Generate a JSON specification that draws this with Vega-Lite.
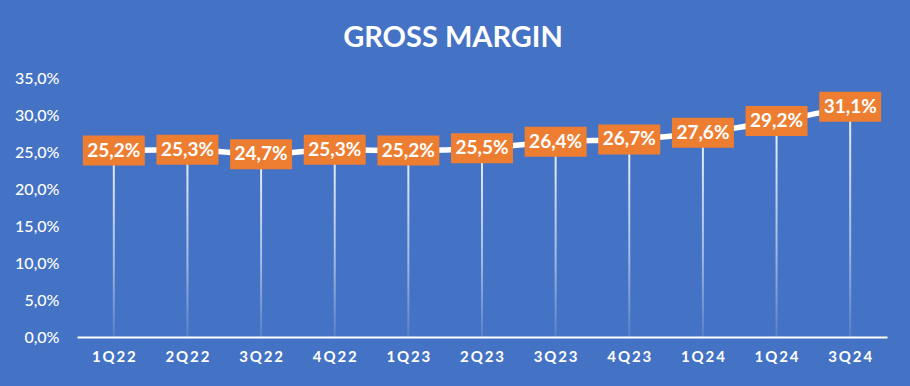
{
  "$schema": "https://vega.github.io/schema/vega-lite/v6.json",
  "width": 810,
  "height": 259,
  "autosize": {"type": "none"},
  "padding": {"left": 77, "top": 78, "right": 23, "bottom": 49},
  "background": "#4472C4",
  "title": {"text": "GROSS MARGIN", "color": "white", "font": "Lato", "fontSize": 29, "fontWeight": "bold", "anchor": "middle", "dx": -29, "offset": 17},
  "data": {"values": [
    {"q": "1Q22", "v": 0.252},
    {"q": "2Q22", "v": 0.253},
    {"q": "3Q22", "v": 0.247},
    {"q": "4Q22", "v": 0.253},
    {"q": "1Q23", "v": 0.252},
    {"q": "2Q23", "v": 0.255},
    {"q": "3Q23", "v": 0.264},
    {"q": "4Q23", "v": 0.267},
    {"q": "1Q24", "v": 0.276},
    {"q": "1Q24#2", "v": 0.292},
    {"q": "3Q24", "v": 0.311}
  ]},
  "encoding": {
    "x": {"field": "q", "type": "nominal", "sort": null,
      "axis": {"title": null, "labelAngle": 0, "domainColor": "white", "domainWidth": 2, "ticks": false, "grid": false,
        "labelColor": "white", "labelFont": "Lato", "labelFontSize": 15, "labelFontWeight": "bold", "labelPadding": 12,
        "labelExpr": "join(split(substring(datum.value, 0, 4), ''), '\u2009')"}},
    "y": {"field": "v", "type": "quantitative", "scale": {"domain": [0, 0.35], "nice": false},
      "axis": {"title": null, "domain": false, "ticks": false, "grid": false, "format": ".1%",
        "values": [0, 0.05, 0.1, 0.15, 0.2, 0.25, 0.3, 0.35],
        "labelColor": "white", "labelFont": "Lato", "labelFontSize": 16, "labelFontWeight": 500, "labelPadding": 18}}
  },
  "layer": [
    {"mark": {"type": "bar", "width": 2, "stroke": null,
      "fill": {"gradient": "linear", "x1": 0, "y1": 0, "x2": 0, "y2": 1,
        "stops": [{"offset": 0, "color": "rgba(255,255,255,0.9)"}, {"offset": 0.6, "color": "rgba(255,255,255,0.5)"}, {"offset": 1, "color": "rgba(255,255,255,0.1)"}]}}},
    {"mark": {"type": "line", "color": "white", "strokeWidth": 5.5, "interpolate": "monotone"}},
    {"mark": {"type": "point", "shape": "M-1,-0.484L1,-0.484L1,0.484L-1,0.484Z", "size": 3844, "filled": true, "fill": "#ED7D31", "opacity": 1, "strokeWidth": 0}},
    {"mark": {"type": "text", "color": "white", "font": "Lato", "fontSize": 19, "fontWeight": "bold"},
      "encoding": {"text": {"field": "v", "type": "quantitative", "format": ".1%"}}}
  ],
  "config": {
    "view": {"stroke": null},
    "locale": {"number": {"decimal": ",", "thousands": ".", "grouping": [3], "currency": ["", " €"]}}
  }
}
